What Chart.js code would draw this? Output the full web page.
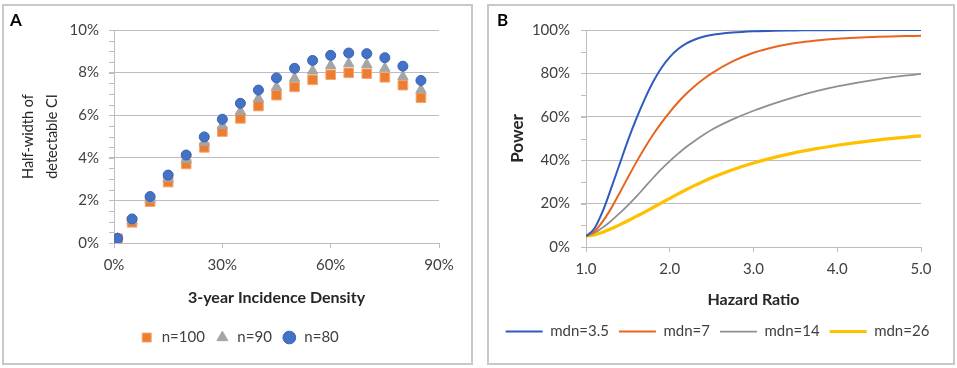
<!DOCTYPE html>
<html>
<head>
<meta charset="utf-8">
<script src="https://cdn.jsdelivr.net/npm/chart.js@4.4.1/dist/chart.umd.min.js"></script>
<style>
body { margin: 0; background: #fff; width: 957px; height: 368px; position: relative; overflow: hidden; font-family: Lato, sans-serif; }
.wrap { position: absolute; top: 0; height: 368px; }
.panel { position: absolute; top: 4px; height: 361px; border: 2px solid #c8c8c8; box-sizing: border-box; pointer-events: none; }
.tag { position: absolute; top: 9px; font: bold 17px Lato, sans-serif; color: #000; }
</style>
</head>
<body>
<div class="wrap" style="left:0;width:478px"><canvas id="chartA" width="478" height="368"></canvas></div>
<div class="wrap" style="left:478px;width:479px"><canvas id="chartB" width="479" height="368"></canvas></div>
<div class="panel" style="left:2px;width:471px"></div>
<div class="panel" style="left:487px;width:468px"></div>
<div class="tag" style="left:10px">A</div>
<div class="tag" style="left:497px">B</div>
<script>
"use strict"
// panel A: half-width of detectable CI vs 3-year incidence density (%)
var incidence = [1, 5, 10, 15, 20, 25, 30, 35, 40, 45, 50, 55, 60, 65, 70, 75, 80, 85];
var n100 = [0.20, 0.97, 1.94, 2.86, 3.71, 4.49, 5.23, 5.85, 6.43, 6.94, 7.33, 7.66, 7.90, 7.99, 7.95, 7.78, 7.41, 6.82];
var n90 = [0.21, 1.03, 2.05, 3.02, 3.91, 4.73, 5.51, 6.18, 6.78, 7.32, 7.73, 8.08, 8.33, 8.42, 8.38, 8.20, 7.81, 7.19];
var n80 = [0.22, 1.13, 2.18, 3.19, 4.13, 4.98, 5.81, 6.56, 7.18, 7.75, 8.20, 8.57, 8.81, 8.92, 8.89, 8.70, 8.30, 7.63];
var xTicksA = [0, 30, 60, 90];
var yTicksA = [0, 2, 4, 6, 8, 10];

// panel B: power (%) vs hazard ratio
var hazard = [1.0, 1.1, 1.2, 1.3, 1.4, 1.5, 1.6, 1.7, 1.8, 1.9, 2.0, 2.1, 2.2, 2.3, 2.4, 2.5, 2.75, 3.0, 3.25, 3.5, 3.75, 4.0, 4.5, 5.0];
var mdn35 = [5, 8.5, 16.5, 27, 38, 49, 59, 68, 76, 82.5, 87.5, 91.2, 93.8, 95.6, 96.9, 97.7, 98.8, 99.4, 99.7, 99.8, 99.9, 99.9, 100, 100];
var mdn7 = [5, 7.2, 11.8, 17.8, 24.8, 32, 39, 45.6, 51.7, 57.2, 62.2, 66.7, 70.7, 74.2, 77.3, 80, 85.5, 89.5, 92.2, 94, 95.2, 96, 96.9, 97.4];
var mdn14 = [5, 6.5, 9, 12, 15.5, 19.2, 23.2, 27.5, 31.8, 35.9, 39.6, 43, 46.2, 49, 51.6, 54, 58.8, 62.8, 66.2, 69.2, 71.8, 74, 77.4, 79.8];
var mdn26 = [5, 5.6, 6.8, 8.4, 10.2, 12.1, 14.1, 16.1, 18.2, 20.3, 22.4, 24.5, 26.5, 28.4, 30.2, 31.9, 35.6, 38.7, 41.3, 43.5, 45.3, 46.9, 49.4, 51.2];
var xTicksB = [1, 2, 3, 4, 5];
var yTicksB = [0, 20, 40, 60, 80, 100];

var gridColor = "#bdbdbd";
var tickColor = "#404040";

function points(xs, ys) {
    return xs.map(function(x, i){ return {x: x, y: ys[i]}; });
}

function fixedTicks(list) {
    return function(scale){ scale.ticks = list.map(function(v){ return {value: v}; }); };
}

// empty axis on the right, only keeps the plot narrower than the legend row
function spacer(width) {
    return {
        position: "right", display: true,
        afterFit: function(s){ s.width = width; },
        grid: {display: false}, border: {display: false}, ticks: {display: false}
    };
}

// small ticks left of the y axis between the gridlines
var minorTicks = {
    id: "minorTicks",
    afterDraw: function(chart, args, opts){
        var s = chart.scales.y, ctx = chart.ctx;
        ctx.save();
        ctx.strokeStyle = gridColor;
        ctx.lineWidth = 1;
        for (var v = s.min; v <= s.max + 1e-9; v += opts.step) {
            var py = Math.round(s.getPixelForValue(v)) + 0.5;
            ctx.beginPath();
            ctx.moveTo(s.right - 5, py);
            ctx.lineTo(s.right, py);
            ctx.stroke();
        }
        ctx.restore();
    }
};

Chart.defaults.font.family = "Lato, sans-serif";
Chart.defaults.animation = false;

new Chart(document.getElementById("chartA"), {
    type: "scatter",
    data: {
        datasets: [
            {label: "n=100", data: points(incidence, n100), pointStyle: "rect", pointRadius: 6.8, backgroundColor: "#ED7D31", borderColor: "#F6A872", borderWidth: 1, order: 3},
            {label: "n=90", data: points(incidence, n90), pointStyle: "triangle", pointRadius: 6, backgroundColor: "#A5A5A5", borderColor: "#A5A5A5", borderWidth: 1, order: 2},
            {label: "n=80", data: points(incidence, n80), pointStyle: "circle", pointRadius: 5, backgroundColor: "#4472C4", borderColor: "#3862B3", borderWidth: 1, order: 1}
        ]
    },
    options: {
        responsive: false,
        layout: {padding: {left: 0, right: 0, top: 30, bottom: 13}},
        scales: {
            x: {
                type: "linear", min: 0, max: 90,
                afterBuildTicks: fixedTicks(xTicksA),
                afterFit: function(s){ s.height = 77; },
                grid: {drawOnChartArea: false, tickLength: 5, color: gridColor},
                border: {color: gridColor},
                ticks: {padding: 8, color: tickColor, font: {size: 15}, callback: function(v){ return v + "%"; }},
                title: {display: true, text: "3-year Incidence Density", color: "#262626", font: {size: 16, weight: "bold"}, padding: {top: 0, bottom: 13}}
            },
            y: {
                min: 0, max: 10,
                afterBuildTicks: fixedTicks(yTicksA),
                afterFit: function(s){ s.width = 114; },
                grid: {tickLength: 5, color: gridColor},
                border: {color: gridColor},
                ticks: {padding: 10, color: tickColor, font: {size: 15}, callback: function(v){ return v + "%"; }},
                title: {display: true, text: ["Half-width of", "detectable CI"], color: "#262626", font: {size: 14.5, lineHeight: 1.65}, padding: {top: 16, bottom: 0}}
            },
            pad: spacer(39)
        },
        plugins: {
            minorTicks: {step: 0.5},
            tooltip: {enabled: false},
            legend: {
                position: "bottom",
                labels: {
                    usePointStyle: true, boxHeight: 9, padding: 10, color: tickColor, font: {size: 15},
                    sort: function(a, b){ return a.datasetIndex - b.datasetIndex; }
                }
            }
        }
    },
    plugins: [minorTicks]
});

new Chart(document.getElementById("chartB"), {
    type: "line",
    data: {
        datasets: [
            {label: "mdn=3.5", data: points(hazard, mdn35), borderColor: "#2F5BC0", borderWidth: 2},
            {label: "mdn=7", data: points(hazard, mdn7), borderColor: "#E8651E", borderWidth: 2},
            {label: "mdn=14", data: points(hazard, mdn14), borderColor: "#8F8F8F", borderWidth: 1.75},
            {label: "mdn=26", data: points(hazard, mdn26), borderColor: "#FFC000", borderWidth: 3.2}
        ]
    },
    options: {
        responsive: false,
        elements: {point: {radius: 0}, line: {cubicInterpolationMode: "monotone", fill: false}},
        layout: {padding: {left: 0, right: 0, top: 30, bottom: 19}},
        scales: {
            x: {
                type: "linear", min: 1, max: 5,
                afterBuildTicks: fixedTicks(xTicksB),
                afterFit: function(s){ s.height = 67; },
                grid: {drawOnChartArea: false, tickLength: 5, color: gridColor},
                border: {color: gridColor},
                ticks: {padding: 8, color: tickColor, font: {size: 15}, callback: function(v){ return v.toFixed(1); }},
                title: {display: true, text: "Hazard Ratio", color: "#262626", font: {size: 16, weight: "bold"}, padding: {top: 0, bottom: 5}}
            },
            y: {
                min: 0, max: 100,
                afterBuildTicks: fixedTicks(yTicksB),
                afterFit: function(s){ s.width = 108; },
                grid: {tickLength: 5, color: gridColor},
                border: {color: gridColor},
                ticks: {padding: 11, color: tickColor, font: {size: 15}, callback: function(v){ return v + "%"; }},
                title: {display: true, text: "Power", color: "#262626", font: {size: 17, weight: "bold"}, padding: {top: 29, bottom: 0}}
            },
            pad: spacer(36)
        },
        plugins: {
            minorTicks: {step: 10},
            tooltip: {enabled: false},
            legend: {
                position: "bottom",
                labels: {usePointStyle: true, pointStyle: "line", pointStyleWidth: 37, padding: 10, color: tickColor, font: {size: 15}}
            }
        }
    },
    plugins: [minorTicks]
});
</script>
</body>
</html>
